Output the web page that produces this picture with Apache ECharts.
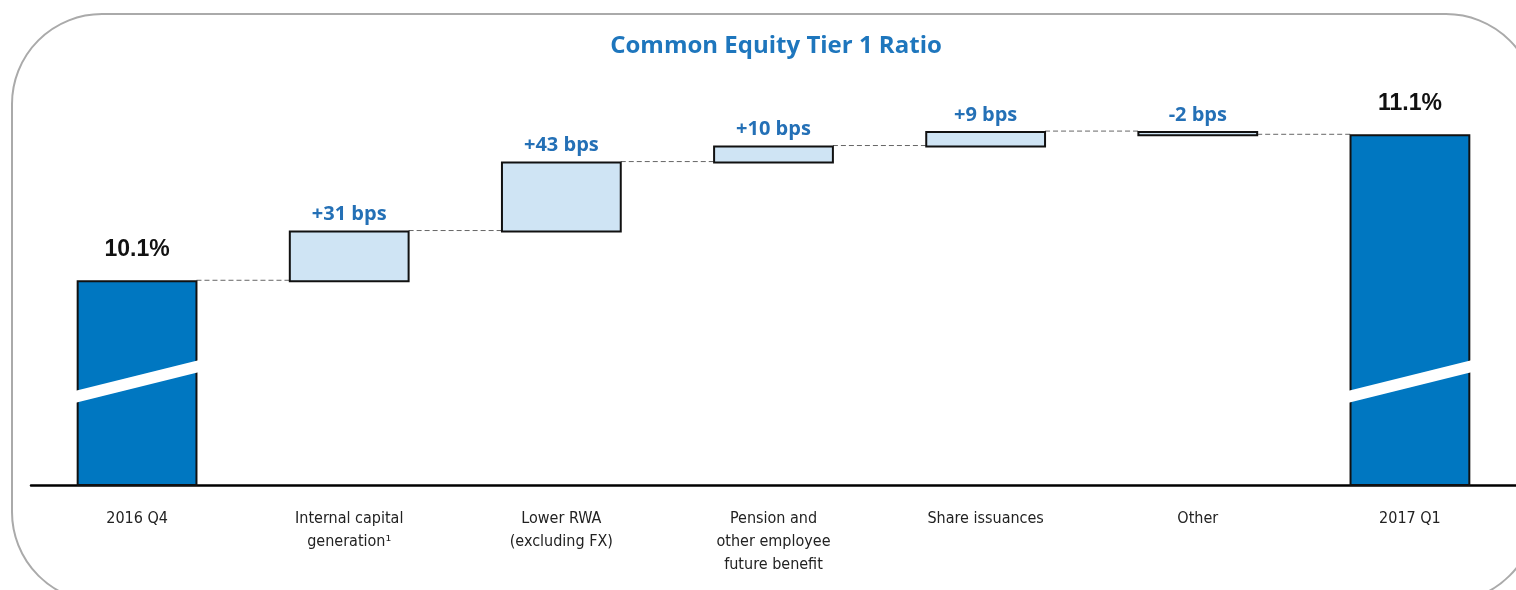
<!DOCTYPE html>
<html>
<head>
<meta charset="utf-8">
<script src="https://cdn.jsdelivr.net/npm/echarts@6/dist/echarts.min.js"></script>
<style>
html,body{margin:0;padding:0;background:#fff;}
#chart{width:1516px;height:590px;}
</style>
</head>
<body>
<div id="chart"></div>
<script>
// ---- data (values in basis points) ----
const categories = ['2016 Q4', 'Internal capital\ngeneration¹', 'Lower RWA\n(excluding FX)', 'Pension and\nother employee\nfuture benefit', 'Share issuances', 'Other', '2017 Q1'];
const startValue = 1010;          // 10.1%
const deltas = [31, 43, 10, 9, -2]; // bps
const endValue = 1101;            // 11.1%
const valueLabels = ['10.1%', '+31 bps', '+43 bps', '+10 bps', '+9 bps', '-2 bps', '11.1%'];
const axisMin = 883;
const axisMax = 1123;

// build waterfall rows: [index, low, high, kind(1=total,0=delta), endLevel]
const rows = [];
rows.push([0, axisMin, startValue, 1, startValue]);
let level = startValue;
deltas.forEach((d, i) => {
  const next = level + d;
  rows.push([i + 1, Math.min(level, next), Math.max(level, next), 0, next]);
  level = next;
});
rows.push([categories.length - 1, axisMin, endValue, 1, endValue]);

const chart = echarts.init(document.getElementById('chart'), null, {renderer: 'canvas'});

function renderItem(params, api) {
  const idx = api.value(0), low = api.value(1), high = api.value(2);
  const kind = api.value(3), endLevel = api.value(4);
  const band = api.size([1, 0])[0];
  const barW = band * 0.56;
  const pTop = api.coord([idx, high]);
  const pBot = api.coord([idx, low]);
  const x = pTop[0] - barW / 2;
  const y = pTop[1];
  const h = pBot[1] - pTop[1];
  const children = [];
  if (idx < categories.length - 1) {
    const ly = api.coord([idx, endLevel])[1];
    const nx = api.coord([idx + 1, endLevel])[0] - barW / 2;
    children.push({
      type: 'line', z2: 1,
      shape: {x1: x + barW, y1: ly - 1, x2: nx, y2: ly - 1},
      style: {stroke: '#666', lineWidth: 1, lineDash: [5, 3]}
    });
  }
  children.push({
    type: 'rect', z2: 2,
    shape: {x: x, y: y, width: barW, height: h},
    style: {fill: kind === 1 ? '#0077c1' : '#cfe4f4', stroke: '#111', lineWidth: 2}
  });
  if (kind === 1) {
    const base = pBot[1];
    const half = 6;
    children.push({
      type: 'polygon', z2: 3,
      shape: {points: [
        [x - 3, base - 88 + half], [x + barW + 3, base - 119 + half],
        [x + barW + 3, base - 119 - half], [x - 3, base - 88 - half]
      ]},
      style: {fill: '#ffffff'}
    });
    children.push({
      type: 'text', z2: 4,
      style: {
        text: valueLabels[params.dataIndex], x: pTop[0], y: y - 20,
        align: 'center', verticalAlign: 'bottom',
        fontFamily: "'Liberation Sans', Arial, sans-serif", fontWeight: 'bold', fontSize: 23, fill: '#111'
      }
    });
  } else {
    children.push({
      type: 'text', z2: 4,
      style: {
        text: valueLabels[params.dataIndex], x: pTop[0], y: y - 7,
        align: 'center', verticalAlign: 'bottom',
        fontFamily: "'Open Sans', sans-serif", fontWeight: 'bold', fontSize: 20, fill: '#2470b6'
      }
    });
  }
  return {type: 'group', children: children};
}

chart.setOption({
  animation: false,
  backgroundColor: '#fff',
  title: {
    text: 'Common Equity Tier 1 Ratio',
    left: 771, top: 29, textAlign: 'center',
    textStyle: {fontFamily: "'Open Sans', sans-serif", fontWeight: 'bold', fontSize: 24, color: '#1e76bd'}
  },
  graphic: [{
    type: 'rect', z: -10, silent: true,
    shape: {x: 12, y: 14, width: 1524, height: 588, r: 90},
    style: {fill: 'none', stroke: '#aaaaaa', lineWidth: 2}
  }],
  grid: {left: 31, right: -4, top: 100, bottom: 105, containLabel: false},
  xAxis: {
    type: 'category', data: categories, boundaryGap: true,
    axisTick: {show: false},
    axisLine: {lineStyle: {color: '#000', width: 2.5}},
    axisLabel: {
      interval: 0, margin: 22,
      fontFamily: "'Liberation Sans Narrow', 'DejaVu Sans Condensed', Roboto, sans-serif",
      fontSize: 16, lineHeight: 23, color: '#222'
    }
  },
  yAxis: {type: 'value', min: axisMin, max: axisMax, show: false, splitLine: {show: false}},
  series: [{
    type: 'custom', renderItem: renderItem,
    encode: {x: 0, y: [1, 2]},
    data: rows, clip: false
  }]
});
</script>
</body>
</html>
